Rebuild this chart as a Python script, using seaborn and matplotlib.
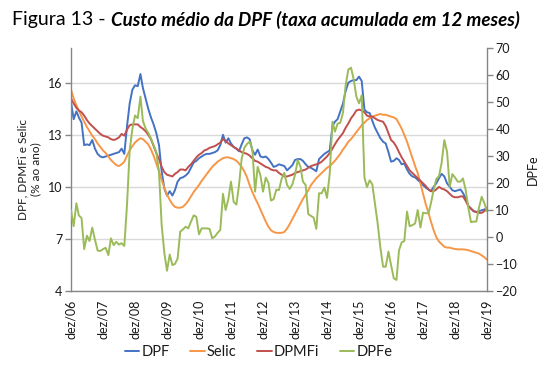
import matplotlib
matplotlib.use("Agg")
import pandas as pd
import seaborn as sns
import matplotlib.pyplot as plt

# Monthly series, dez/2006 .. dez/2019
dpf = [
    14.9, 13.9, 14.35, 14.0, 13.7, 12.4, 12.45, 12.4, 12.7, 12.2, 11.9, 11.75,
    11.7, 11.75, 11.8, 11.85, 11.9, 11.95, 12.0, 12.2, 11.9, 13.5, 14.8, 15.6,
    15.85, 15.8, 16.5, 15.7, 15.1, 14.5, 14.0, 13.6, 13.1, 12.4, 10.9, 9.9,
    9.5, 9.75, 9.5, 9.8, 10.3, 10.5, 10.55, 10.65, 10.8, 11.1, 11.4, 11.5,
    11.65, 11.75, 11.85, 11.9, 11.9, 11.95, 12.0, 12.1, 12.4, 13.0, 12.55, 12.8,
    12.5, 12.3, 12.2, 12.05, 12.45, 12.8, 12.85, 12.75, 12.1, 11.85, 12.15, 11.75,
    11.7, 11.75, 11.6, 11.4, 11.15, 11.2, 11.3, 11.25, 11.2, 10.95, 11.1, 11.25,
    11.55, 11.6, 11.6, 11.5, 11.3, 11.15, 11.1, 11.0, 10.9, 11.6, 11.75, 11.9,
    12.0, 12.1, 13.5, 13.75, 13.9, 14.35, 14.8, 15.5, 16.0, 16.1, 16.15, 16.15,
    16.35, 16.1, 14.45, 14.3, 14.25, 13.8, 13.4, 13.1, 12.8, 12.6, 12.5, 12.0,
    11.45, 11.5, 11.65, 11.55, 11.3, 11.35, 11.0, 10.75, 10.6, 10.55, 10.4, 10.25,
    10.1, 9.95, 9.85, 9.75, 10.0, 10.2, 10.5, 10.75, 10.6, 10.2, 10.0, 9.8,
    9.75, 9.8, 9.85, 9.65, 9.35, 8.9, 8.75, 8.6, 8.55, 8.6, 8.65, 8.7,
    8.75,
]
selic = [
    15.6, 15.1, 14.7, 14.4, 14.05, 13.75, 13.45, 13.2, 12.95, 12.75, 12.5, 12.3,
    12.1, 11.95, 11.75, 11.55, 11.4, 11.25, 11.2, 11.3, 11.45, 11.8, 12.1, 12.35,
    12.55, 12.7, 12.8, 12.75, 12.6, 12.45, 12.15, 11.8, 11.35, 10.9, 10.4, 9.95,
    9.55, 9.25, 9.0, 8.85, 8.8, 8.8, 8.85, 9.0, 9.2, 9.45, 9.7, 9.9,
    10.1, 10.35, 10.55, 10.75, 10.95, 11.15, 11.3, 11.45, 11.55, 11.65, 11.7, 11.7,
    11.65, 11.6, 11.5, 11.35, 11.15, 10.9, 10.55, 10.1, 9.7, 9.35, 9.05, 8.7,
    8.35, 8.0, 7.7, 7.5, 7.4, 7.35, 7.35, 7.35, 7.4, 7.6, 7.85, 8.15,
    8.45, 8.75, 9.05, 9.3, 9.55, 9.8, 10.1, 10.3, 10.5, 10.65, 10.8, 10.95,
    11.1, 11.2, 11.35, 11.5, 11.7, 11.9, 12.15, 12.35, 12.6, 12.75, 12.95, 13.15,
    13.35, 13.55, 13.7, 13.85, 13.95, 14.05, 14.1, 14.15, 14.2, 14.15, 14.15, 14.1,
    14.05, 14.0, 13.9, 13.65, 13.35, 13.0, 12.6, 12.15, 11.7, 11.2, 10.8, 10.2,
    9.6, 9.0, 8.5, 8.0, 7.5, 7.1, 6.85, 6.7, 6.55, 6.5, 6.5, 6.45,
    6.42, 6.4, 6.4, 6.4, 6.38, 6.35, 6.3, 6.25, 6.2, 6.15, 6.05, 5.95,
    5.8,
]
dpmfi = [
    15.1, 14.8, 14.55, 14.4, 14.3, 14.1, 13.85, 13.65, 13.5, 13.35, 13.2, 13.05,
    12.95, 12.9, 12.85, 12.75, 12.7, 12.75, 12.85, 13.05, 12.95, 13.3, 13.55, 13.6,
    13.6, 13.6, 13.45, 13.35, 13.2, 13.0, 12.75, 12.35, 11.95, 11.6, 11.15, 10.85,
    10.7, 10.65, 10.6, 10.75, 10.85, 11.0, 11.0, 10.95, 11.15, 11.3, 11.5, 11.7,
    11.85, 11.95, 12.1, 12.15, 12.25, 12.3, 12.35, 12.45, 12.55, 12.75, 12.65, 12.5,
    12.4, 12.3, 12.2, 12.1, 12.0, 11.95, 11.9, 11.8, 11.65, 11.5, 11.45, 11.35,
    11.25, 11.15, 11.1, 11.0, 10.95, 10.95, 10.8, 10.7, 10.6, 10.6, 10.65, 10.7,
    10.8, 10.85, 10.9, 10.95, 11.0, 11.1, 11.2, 11.25, 11.3, 11.35, 11.45, 11.6,
    11.75, 11.95, 12.2, 12.45, 12.7, 12.9, 13.1, 13.4, 13.65, 13.95, 14.15, 14.4,
    14.45, 14.4, 14.3, 14.1, 14.05, 14.05, 13.95, 13.85, 13.8, 13.75, 13.5, 13.1,
    12.7, 12.55, 12.3, 12.0, 11.7, 11.45, 11.2, 10.95, 10.8, 10.65, 10.5, 10.35,
    10.2, 10.05, 9.85, 9.75, 9.75, 9.85, 10.0, 9.9, 9.85, 9.75, 9.6, 9.45,
    9.4, 9.4, 9.45, 9.45, 9.2, 8.9, 8.75, 8.6, 8.55, 8.5, 8.5, 8.6,
    8.8,
]
dpfe = [
    10.0, 4.0, 12.5, 8.0, 7.0, -4.5, 0.5, -1.5, 3.5, -1.0, -5.0, -5.2,
    -4.5, -4.0, -6.7, -0.5, -3.0, -1.8, -2.8, -2.3, -3.3, 12.0, 32.0, 40.0,
    45.0, 44.0, 52.0, 43.0, 40.2, 38.6, 36.5, 34.0, 31.5, 24.0, 4.5, -6.0,
    -12.5, -6.5, -10.4, -10.0, -8.0, 2.0, 2.8, 3.8, 3.2, 5.7, 8.0, 7.5,
    1.0, 3.2, 3.2, 3.2, 3.0, -0.5, 0.2, 1.5, 2.6, 16.0, 10.0, 14.0,
    20.5, 13.0, 12.0, 19.0, 29.0, 33.0, 34.5, 35.3, 32.5, 16.8, 26.0, 22.8,
    16.8, 22.0, 20.0, 13.5, 14.0, 17.5, 17.4, 21.5, 23.8, 19.3, 17.8, 19.5,
    23.0, 28.5, 26.0, 20.5, 19.3, 8.5, 7.8, 7.2, 3.0, 16.2, 16.2, 18.3,
    14.5, 23.5, 42.7, 39.0, 42.0, 42.3, 46.0, 56.0, 62.0, 62.7, 58.5, 52.0,
    49.5, 52.5, 22.0, 18.5, 21.0, 19.5, 12.0, 5.0, -4.0, -11.0, -11.0, -5.4,
    -10.4, -15.3, -15.9, -5.0, -2.0, -1.5, 9.4, 4.0, 4.4, 5.0, 10.0, 3.5,
    9.0, 8.8, 8.8, 12.5, 17.5, 21.5, 22.5, 27.5, 35.9, 31.5, 18.6, 23.3,
    22.0, 20.5, 20.5, 21.7, 17.5, 11.0, 5.5, 5.7, 5.7, 11.0, 14.9, 12.5,
    9.5,
]

months = pd.date_range("2006-12-01", "2019-12-01", freq="MS")
tick_labels = ["dez/06", "dez/07", "dez/08", "dez/09", "dez/10", "dez/11", "dez/12",
               "dez/13", "dez/14", "dez/15", "dez/16", "dez/17", "dez/18", "dez/19"]
left_ticks = [4, 7, 10, 13, 16]
right_ticks = [-20, -10, 0, 10, 20, 30, 40, 50, 60, 70]

sns.set_style("white")
plt.rcParams["font.family"] = ["Lato", "DejaVu Sans"]

axis_gray = "#868686"
text_col = "#1a1a1a"

fig = plt.figure(figsize=(5.5, 3.75), dpi=100)
ax = fig.add_axes([0.129, 0.224, 0.7565, 0.648])
ax2 = ax.twinx()

sns.lineplot(x=months, y=dpf, ax=ax, color="#4472C4", lw=1.4, label="DPF", legend=False)
sns.lineplot(x=months, y=selic, ax=ax, color="#F79646", lw=1.4, label="Selic", legend=False)
sns.lineplot(x=months, y=dpmfi, ax=ax, color="#C0504D", lw=1.4, label="DPMFi", legend=False)
sns.lineplot(x=months, y=dpfe, ax=ax2, color="#9BBB59", lw=1.4, label="DPFe", legend=False)

# axes limits and ticks
ax.set_xlim(months[0], months[-1])
ax.set_ylim(4, 18)
ax.set_yticks(left_ticks)
ax2.set_ylim(-20, 70)
ax2.set_yticks(right_ticks)
ax.set_xticks(months[::12])
ax.set_xticklabels(tick_labels, rotation=90)
ax.set_xlabel("")

ax.yaxis.grid(True, color="#D9D9D9", lw=1)
ax.set_axisbelow(True)

for a in (ax, ax2):
    for s in a.spines.values():
        s.set_visible(False)
ax.spines["left"].set_visible(True)
ax.spines["bottom"].set_visible(True)
ax2.spines["right"].set_visible(True)
for s in (ax.spines["left"], ax.spines["bottom"], ax2.spines["right"]):
    s.set_color(axis_gray)
    s.set_linewidth(1)

ax.tick_params(axis="both", direction="out", length=4, width=1, color=axis_gray,
               labelsize=9, labelcolor=text_col, pad=2)
ax2.tick_params(axis="y", direction="out", length=4, width=1, color=axis_gray,
                labelsize=9, labelcolor=text_col, pad=2)

ax.set_ylabel("DPF, DPMFi e Selic\n(% ao ano)", fontsize=8.5, color=text_col, labelpad=5)
ax2.set_ylabel("DPFe", fontsize=9, color=text_col, labelpad=7)

# legend at the bottom
handles = ax.get_lines()[:3] + ax2.get_lines()[:1]
fig.legend(handles, ["DPF", "Selic", "DPMFi", "DPFe"], loc="center",
           bbox_to_anchor=(0.47, 0.061), ncol=4, frameon=False, fontsize=10.5,
           handlelength=1.0, handletextpad=0.15, columnspacing=1.4,
           labelcolor=text_col)

# title: plain part + bold italic part
t1 = fig.text(12 / 550, 1 - 20 / 375, "Figura 13 - ", fontsize=14, va="center",
              color="black")
fig.canvas.draw()
bb = t1.get_window_extent()
fig.text(bb.x1 / fig.bbox.width, 1 - 20 / 375,
         "Custo médio da DPF (taxa acumulada em 12 meses)",
         fontsize=13.5, va="center", fontweight="bold", fontstyle="italic", color="black")

fig.savefig("out.png", dpi=100)
